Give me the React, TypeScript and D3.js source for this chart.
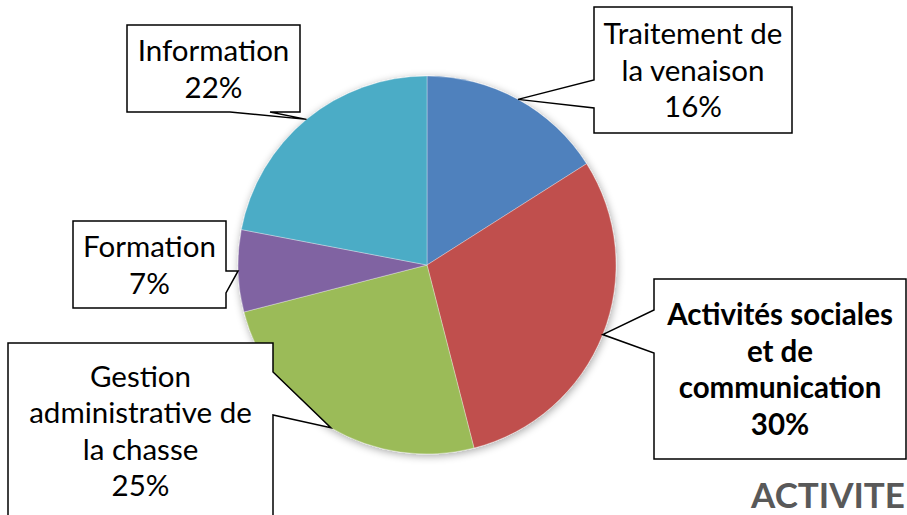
import React from "react";
import * as d3 from "d3";

// chart data
const categories = [
  "Traitement de la venaison",
  "Activités sociales et de communication",
  "Gestion administrative de la chasse",
  "Formation",
  "Information",
];
const shares = [16, 30, 25, 7, 22];
const colors = ["#4F81BD", "#C0504D", "#9BBB59", "#8064A2", "#4BACC6"];
const labelLines = [
  ["Traitement de", "la venaison"],
  ["Activités sociales", "et de", "communication"],
  ["Gestion", "administrative de", "la chasse"],
  ["Formation"],
  ["Information"],
];
const boldLabel = [false, true, false, false, false];

// callout boxes: x, y, w, h, side of the pointer, pointer base (along that side)
const boxes = [
  { x: 594, y: 7, w: 198, h: 126, side: "left", b1: 80, b2: 108 },
  { x: 654, y: 279, w: 252, h: 180, side: "left", b1: 310, b2: 353 },
  { x: 8, y: 343, w: 265, h: 175, side: "right", b1: 372, b2: 415 },
  { x: 73, y: 221, w: 153, h: 87, side: "right", b1: 271, b2: 293 },
  { x: 127, y: 25, w: 173, h: 87, side: "bottom", b1: 230, b2: 270 },
];

const width = 907;
const height = 515;
const cx = 427;
const cy = 265;
const radius = 189;
const fontSize = 29.5;
const lineH = 36.5;

function calloutPath(bx, tip) {
  const x0 = bx.x, y0 = bx.y, x1 = bx.x + bx.w, y1 = bx.y + bx.h;
  const [tx, ty] = tip;
  if (bx.side === "left") {
    return `M${x0},${y0}L${x1},${y0}L${x1},${y1}L${x0},${y1}L${x0},${bx.b2}L${tx},${ty}L${x0},${bx.b1}Z`;
  }
  if (bx.side === "right") {
    return `M${x0},${y0}L${x1},${y0}L${x1},${bx.b1}L${tx},${ty}L${x1},${bx.b2}L${x1},${y1}L${x0},${y1}Z`;
  }
  // bottom
  return `M${x0},${y0}L${x1},${y0}L${x1},${y1}L${bx.b2},${y1}L${tx},${ty}L${bx.b1},${y1}L${x0},${y1}Z`;
}

export default function App() {
  const pie = d3.pie<number>().sort(null).value((d) => d);
  const arcs = pie(shares);
  const arc = d3.arc<d3.PieArcDatum<number>>().innerRadius(0).outerRadius(radius);

  return (
    <svg
      width={width}
      height={height}
      style={{ position: "absolute", left: 0, top: 0, background: "#fff" }}
      fontFamily="Lato, 'Noto Sans', sans-serif"
    >
      <defs>
        <filter id="shadow" x="-20%" y="-20%" width="140%" height="140%">
          <feGaussianBlur in="SourceAlpha" stdDeviation="4" />
          <feOffset dx="1" dy="2" result="blur" />
          <feComponentTransfer>
            <feFuncA type="linear" slope="0.35" />
          </feComponentTransfer>
          <feMerge>
            <feMergeNode />
            <feMergeNode in="SourceGraphic" />
          </feMerge>
        </filter>
      </defs>

      <g transform={`translate(${cx},${cy})`} filter="url(#shadow)">
        {arcs.map((a, i) => (
          <path key={categories[i]} d={arc(a) || ""} fill={colors[i]} stroke="#fff" strokeOpacity={0.4} strokeWidth={0.8} />
        ))}
      </g>

      {arcs.map((a, i) => {
        const mid = (a.startAngle + a.endAngle) / 2;
        const tip: [number, number] = [cx + radius * Math.sin(mid), cy - radius * Math.cos(mid)];
        const bx = boxes[i];
        const lines = [...labelLines[i], `${shares[i]}%`];
        const first = bx.y + bx.h / 2 - ((lines.length - 1) * lineH) / 2 + fontSize * 0.37;
        return (
          <g key={"lbl" + i}>
            <path d={calloutPath(bx, tip)} fill="#fff" stroke="#000" strokeWidth={1.5} strokeLinejoin="miter" />
            <text
              textAnchor="middle"
              fontSize={fontSize}
              fontWeight={boldLabel[i] ? "bold" : "normal"}
              fill="#000"
            >
              {lines.map((l, j) => (
                <tspan key={j} x={bx.x + bx.w / 2} y={first + j * lineH}>
                  {l}
                </tspan>
              ))}
            </text>
          </g>
        );
      })}

      <text x={905} y={508} textAnchor="end" fontSize={35} fontWeight="bold" fill="#595959">
        ACTIVITE
      </text>
    </svg>
  );
}
